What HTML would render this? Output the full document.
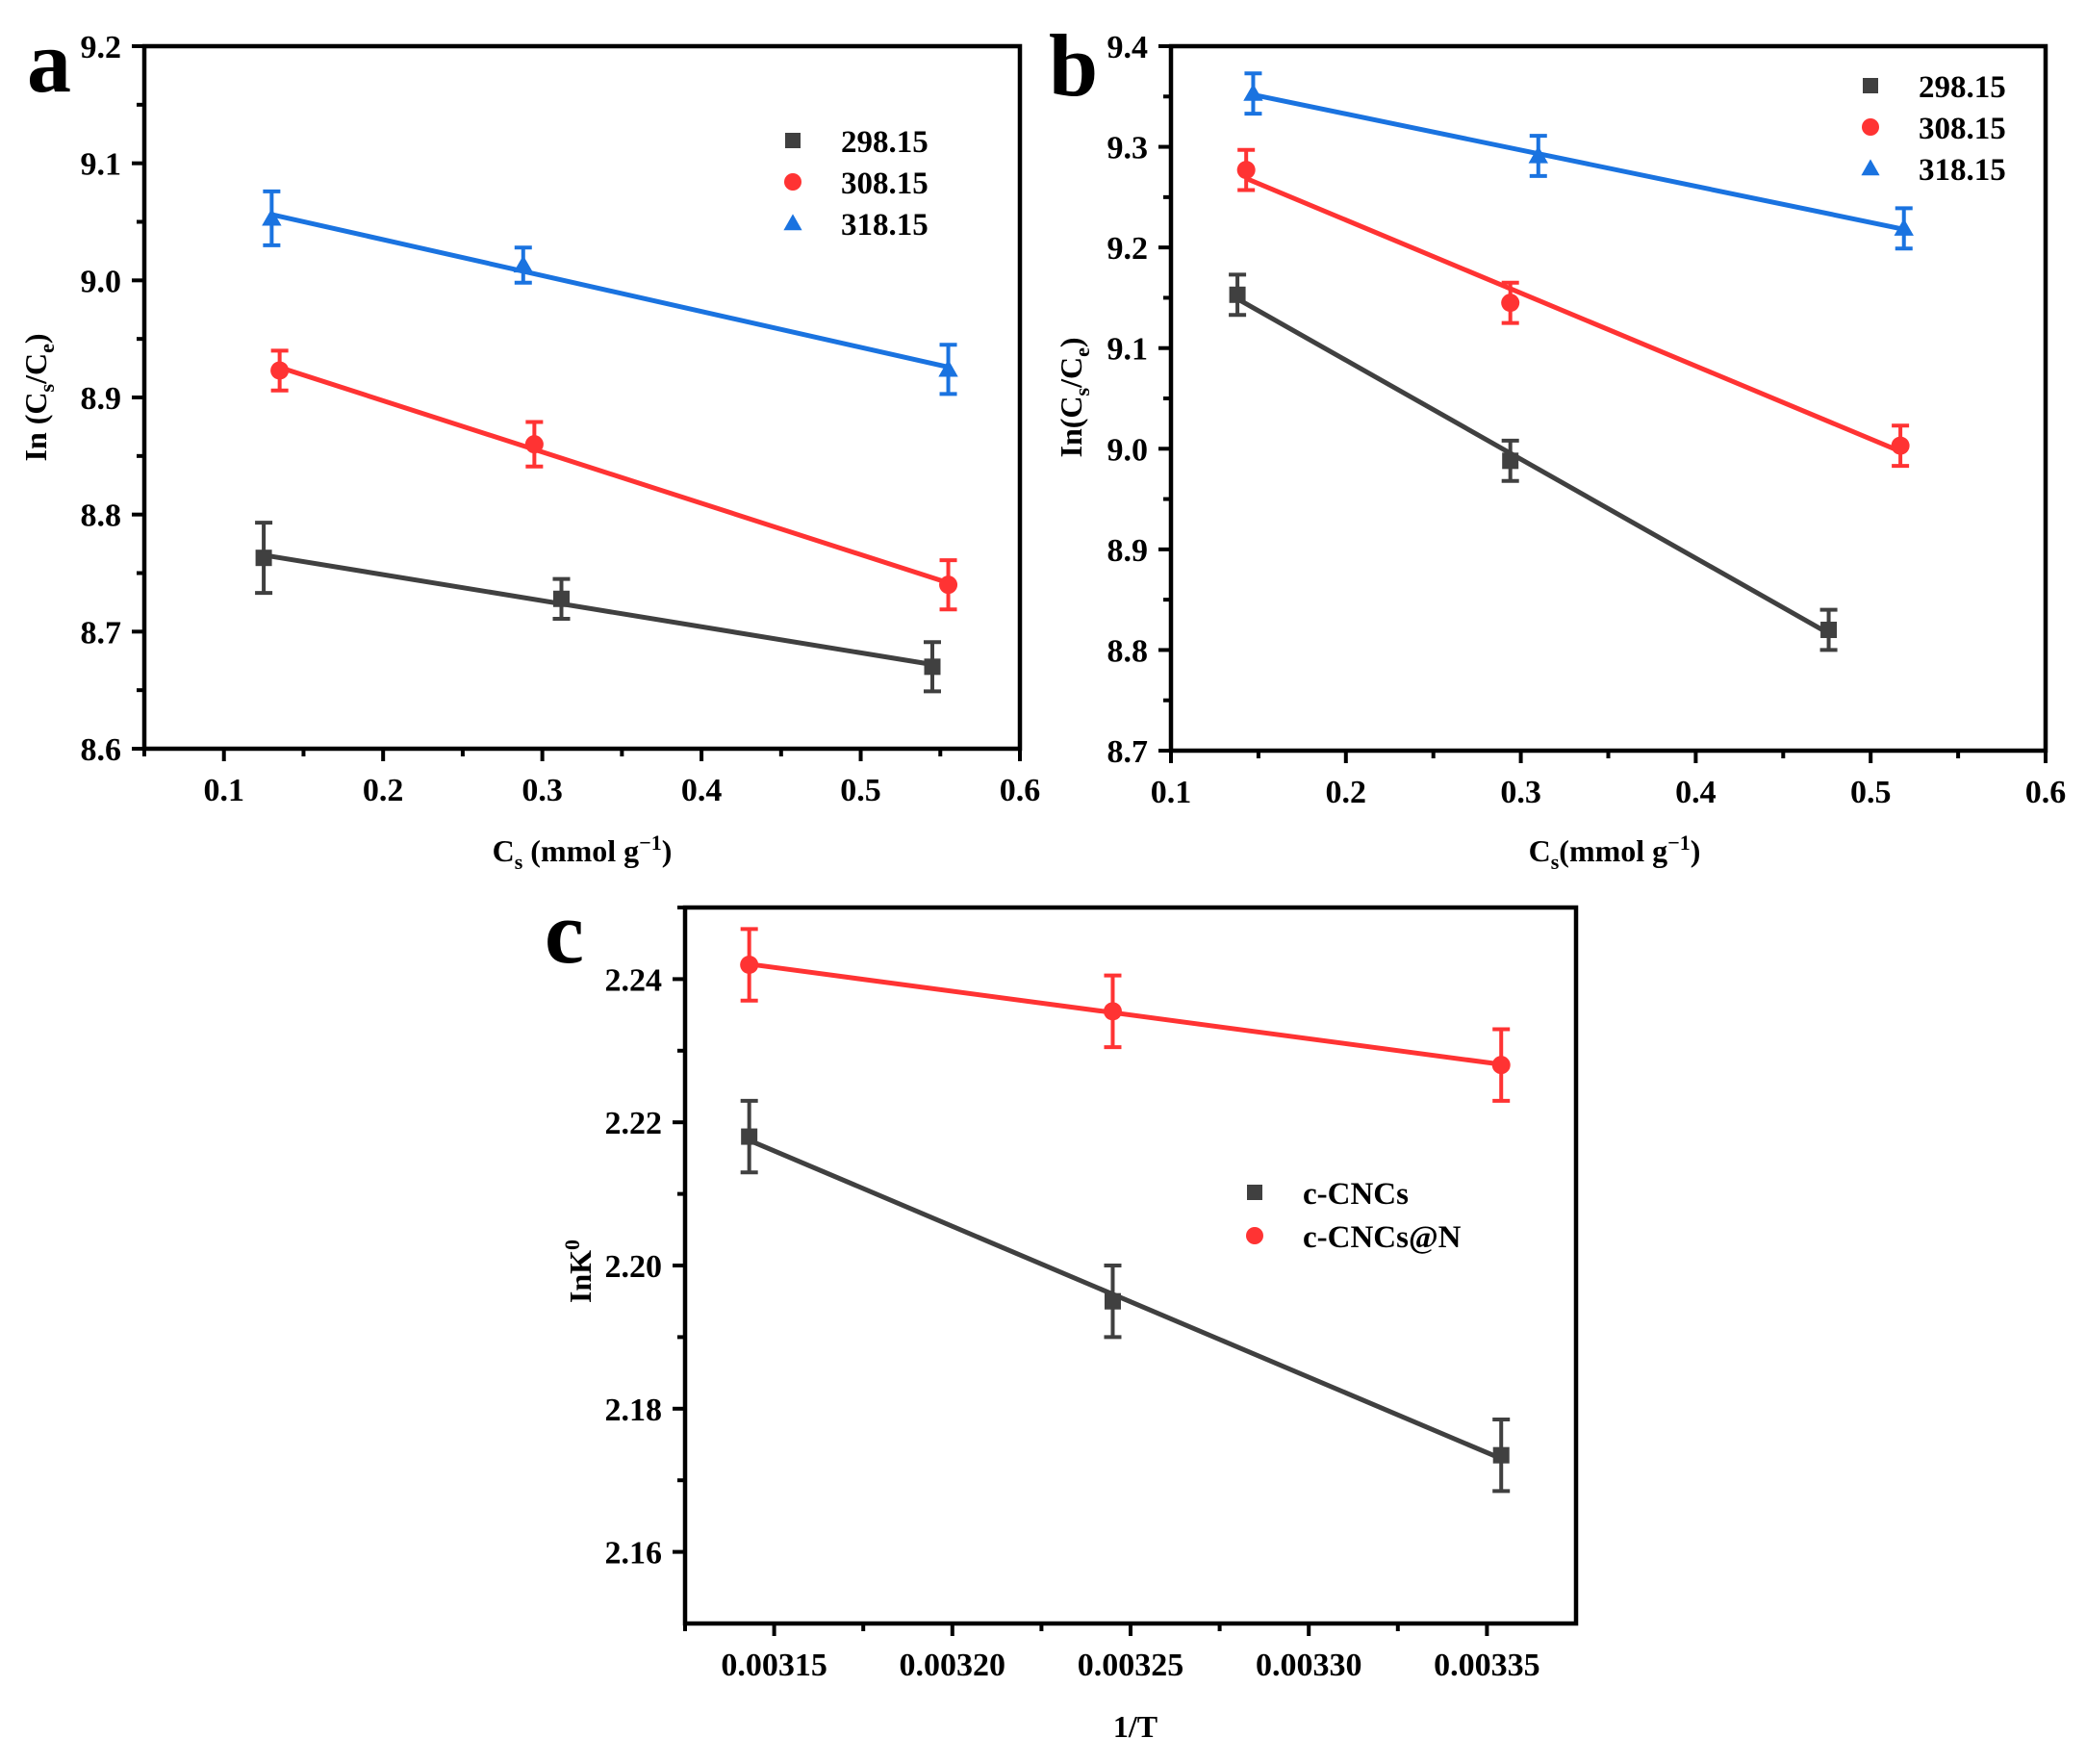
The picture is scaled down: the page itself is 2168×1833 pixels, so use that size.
<!DOCTYPE html>
<html><head><meta charset="utf-8"><style>
html,body{margin:0;padding:0;background:#fff}
svg{display:block}
text{font-family:"Liberation Serif","Times New Roman",serif;font-weight:bold;fill:#000}
</style></head><body>
<svg id="fig" width="2168" height="1833" viewBox="0 0 2168 1833" xmlns="http://www.w3.org/2000/svg"></svg>
<script>
// ---------- Panel a data ----------
const aX_298 = [0.125, 0.312, 0.545];
const aY_298 = [8.763, 8.728, 8.670];
const aE_298 = [0.030, 0.017, 0.021];
const aX_308 = [0.135, 0.295, 0.555];
const aY_308 = [8.923, 8.860, 8.740];
const aE_308 = [0.017, 0.019, 0.021];
const aX_318 = [0.130, 0.288, 0.555];
const aY_318 = [9.053, 9.013, 8.924];
const aE_318 = [0.023, 0.015, 0.021];
const aXTicks = [0.1, 0.2, 0.3, 0.4, 0.5, 0.6];
const aYTicks = [8.6, 8.7, 8.8, 8.9, 9.0, 9.1, 9.2];
// ---------- Panel b data ----------
const bX_298 = [0.138, 0.294, 0.476];
const bY_298 = [9.153, 8.988, 8.820];
const bE_298 = [0.020, 0.020, 0.020];
const bX_308 = [0.143, 0.294, 0.517];
const bY_308 = [9.277, 9.145, 9.003];
const bE_308 = [0.020, 0.020, 0.020];
const bX_318 = [0.147, 0.310, 0.519];
const bY_318 = [9.353, 9.291, 9.219];
const bE_318 = [0.020, 0.020, 0.020];
const bXTicks = [0.1, 0.2, 0.3, 0.4, 0.5, 0.6];
const bYTicks = [8.7, 8.8, 8.9, 9.0, 9.1, 9.2, 9.3, 9.4];
// ---------- Panel c data ----------
const cX = [0.003143, 0.003245, 0.003354];
const cY_plain = [2.2180, 2.1950, 2.1735];
const cE_plain = [0.005, 0.005, 0.005];
const cY_N = [2.2420, 2.2355, 2.2280];
const cE_N = [0.005, 0.005, 0.005];
const cXTicks = [0.00315, 0.00320, 0.00325, 0.00330, 0.00335];
const cXTickLabels = ["0.00315", "0.00320", "0.00325", "0.00330", "0.00335"];
const cYTicks = [2.16, 2.18, 2.20, 2.22, 2.24];
const cYTickLabels = ["2.16", "2.18", "2.20", "2.22", "2.24"];

const NS = "http://www.w3.org/2000/svg";
const svg = document.getElementById("fig");
const BLACK = "#404040", RED = "#ff3333", BLUE = "#1a73e0";

function el(tag, attrs, parent) {
  const e = document.createElementNS(NS, tag);
  for (const k in attrs) e.setAttribute(k, attrs[k]);
  (parent || svg).appendChild(e);
  return e;
}
function txt(x, y, s, size, anchor, parent) {
  const t = el("text", {x: x, y: y, "font-size": size, "text-anchor": anchor || "middle"}, parent);
  t.textContent = s;
  return t;
}
function linfit(xs, ys) {
  const n = xs.length; let sx = 0, sy = 0, sxx = 0, sxy = 0;
  for (let i = 0; i < n; i++) { sx += xs[i]; sy += ys[i]; sxx += xs[i] * xs[i]; sxy += xs[i] * ys[i]; }
  const m = (n * sxy - sx * sy) / (n * sxx - sx * sx);
  return [m, (sy - m * sx) / n];
}
function marker(g, shape, x, y, color, s) {
  let m;
  if (shape === "sq") m = el("rect", {x: x - s / 2, y: y - s / 2, width: s, height: s, fill: color}, g);
  else if (shape === "ci") m = el("circle", {cx: x, cy: y, r: s / 2 + 1, fill: color}, g);
  else m = el("polygon", {points: `${x},${y - s * 0.6} ${x - s * 0.6},${y + s * 0.45} ${x + s * 0.6},${y + s * 0.45}`, fill: color}, g);
  return m;
}

function panel(cfg) {
  const g = el("g", {});
  
  
  const X = v => cfg.L + (v - cfg.x0) / (cfg.x1 - cfg.x0) * (cfg.R - cfg.L);
  const Y = v => cfg.B - (v - cfg.y0) / (cfg.y1 - cfg.y0) * (cfg.B - cfg.T);
  const xt = cfg.xt, yt = cfg.yt;
  for (let i = 0; i < xt.length; i++) {
    const x = X(xt[i]);
    const tk = el("line", {x1: x, y1: cfg.B, x2: x, y2: cfg.B + 13, stroke: "#000", "stroke-width": 4}, g);
    
    
    const lb = txt(x, cfg.B + 54, cfg.xl ? cfg.xl[i] : xt[i].toFixed(1), 34, "middle", g);
    
    
    if (i < xt.length - 1) {
      const mx = X((xt[i] + xt[i + 1]) / 2);
      el("line", {x1: mx, y1: cfg.B, x2: mx, y2: cfg.B + 8, stroke: "#000", "stroke-width": 4}, g);
    }
    if (i === 0) {
      const mx = X(xt[0] - (xt[1] - xt[0]) / 2);
      if (mx >= cfg.L - 1) el("line", {x1: mx, y1: cfg.B, x2: mx, y2: cfg.B + 8, stroke: "#000", "stroke-width": 4}, g);
    }
  }
  for (let i = 0; i < yt.length; i++) {
    const y = Y(yt[i]);
    const tk = el("line", {x1: cfg.L - 13, y1: y, x2: cfg.L, y2: y, stroke: "#000", "stroke-width": 4}, g);
    
    
    const lb = txt(cfg.L - 24, y + 12, cfg.yl ? cfg.yl[i] : yt[i].toFixed(1), 34, "end", g);
    
    
    if (i < yt.length - 1) {
      const my = Y((yt[i] + yt[i + 1]) / 2);
      el("line", {x1: cfg.L - 8, y1: my, x2: cfg.L, y2: my, stroke: "#000", "stroke-width": 4}, g);
    }
    if (i === yt.length - 1) {
      const my = Y(yt[i] + (yt[1] - yt[0]) / 2);
      if (my >= cfg.T - 1) el("line", {x1: cfg.L - 8, y1: my, x2: cfg.L, y2: my, stroke: "#000", "stroke-width": 4}, g);
    }
  }
  cfg.series.forEach(s => {
    const sg = el("g", {}, g);
    
    
    const [m, b] = linfit(s.x, s.y);
    const xa = s.x[0], xb = s.x[s.x.length - 1];
    const fl = el("line", {x1: X(xa), y1: Y(m * xa + b), x2: X(xb), y2: Y(m * xb + b), stroke: s.color, "stroke-width": 5}, sg);
    
    
    for (let i = 0; i < s.x.length; i++) {
      const px = X(s.x[i]), py = Y(s.y[i]), e1 = Y(s.y[i] + s.e[i]), e2 = Y(s.y[i] - s.e[i]);
      const eb = el("path", {d: `M${px},${e1}V${e2}M${px - 9},${e1}H${px + 9}M${px - 9},${e2}H${px + 9}`, stroke: s.color, "stroke-width": 4, fill: "none"}, sg);
      
      
      const mk = marker(sg, s.shape, px, py, s.color, 17);
      
      
    }
  });
  const fr = el("rect", {x: cfg.L, y: cfg.T, width: cfg.R - cfg.L, height: cfg.B - cfg.T, fill: "none", stroke: "#000", "stroke-width": 4.5}, g);
  
  
  cfg.series.forEach((s, i) => {
    const ly = cfg.legY + i * cfg.legDy;
    const lg = el("g", {}, g);
    
    
    marker(lg, s.shape, cfg.legX, ly, s.color, 16);
    txt(cfg.legX + 50, ly + 12, s.label, 33, "start", lg);
  });
  const pl = txt(cfg.letX, cfg.letY, cfg.letter, 92, "start", g);
  
  
  return g;
}

panel({name: "panel-a", L: 150, R: 1060, T: 48, B: 778, x0: 0.05, x1: 0.6, y0: 8.6, y1: 9.2,
  xt: aXTicks, yt: aYTicks, legX: 824, legY: 146, legDy: 43, letX: 28, letY: 95, letter: "a",
  series: [
    {name: "series-298-15", label: "298.15", x: aX_298, y: aY_298, e: aE_298, color: BLACK, shape: "sq"},
    {name: "series-308-15", label: "308.15", x: aX_308, y: aY_308, e: aE_308, color: RED, shape: "ci"},
    {name: "series-318-15", label: "318.15", x: aX_318, y: aY_318, e: aE_318, color: BLUE, shape: "tr"}]});

panel({name: "panel-b", L: 1217, R: 2126, T: 48, B: 780, x0: 0.1, x1: 0.6, y0: 8.7, y1: 9.4,
  xt: bXTicks, yt: bYTicks, legX: 1944, legY: 89, legDy: 43, letX: 1090, letY: 99, letter: "b",
  series: [
    {name: "series-298-15", label: "298.15", x: bX_298, y: bY_298, e: bE_298, color: BLACK, shape: "sq"},
    {name: "series-308-15", label: "308.15", x: bX_308, y: bY_308, e: bE_308, color: RED, shape: "ci"},
    {name: "series-318-15", label: "318.15", x: bX_318, y: bY_318, e: bE_318, color: BLUE, shape: "tr"}]});

panel({name: "panel-c", L: 712, R: 1638, T: 943, B: 1687, x0: 0.003125, x1: 0.003375, y0: 2.15, y1: 2.25,
  xt: cXTicks, xl: cXTickLabels, yt: cYTicks, yl: cYTickLabels, legX: 1304, legY: 1239, legDy: 45, letX: 566, letY: 1000, letter: "c",
  series: [
    {name: "series-c-cncs", label: "c-CNCs", x: cX, y: cY_plain, e: cE_plain, color: BLACK, shape: "sq"},
    {name: "series-c-cncs-at-n", label: "c-CNCs@N", x: cX, y: cY_N, e: cE_N, color: RED, shape: "ci"}]});

function title(x, y, html, rot, name) {
  const t = el("text", {x: x, y: y, "font-size": 32, "text-anchor": "middle"});
  if (rot) t.setAttribute("transform", `rotate(-90 ${x} ${y})`);
  t.innerHTML = html;
  
  
}
title(605, 895, 'C<tspan font-size="22" dy="8">s</tspan><tspan dy="-8"> (mmol g</tspan><tspan font-size="22" dy="-12">−1</tspan><tspan dy="12">)</tspan>', false, "a-x-axis-title");
title(48, 413, 'In (C<tspan font-size="22" dy="8">s</tspan><tspan dy="-8">/C</tspan><tspan font-size="22" dy="8">e</tspan><tspan dy="-8">)</tspan>', true, "a-y-axis-title");
title(1678, 895, 'C<tspan font-size="22" dy="8">s</tspan><tspan dy="-8">(mmol g</tspan><tspan font-size="22" dy="-12">−1</tspan><tspan dy="12">)</tspan>', false, "b-x-axis-title");
title(1124, 413, 'In(C<tspan font-size="22" dy="8">s</tspan><tspan dy="-8">/C</tspan><tspan font-size="22" dy="8">e</tspan><tspan dy="-8">)</tspan>', true, "b-y-axis-title");
title(1180, 1805, '1/T', false, "c-x-axis-title");
title(614, 1321, 'InK<tspan font-size="22" dy="-12">0</tspan>', true, "c-y-axis-title");
</script>
</body></html>
